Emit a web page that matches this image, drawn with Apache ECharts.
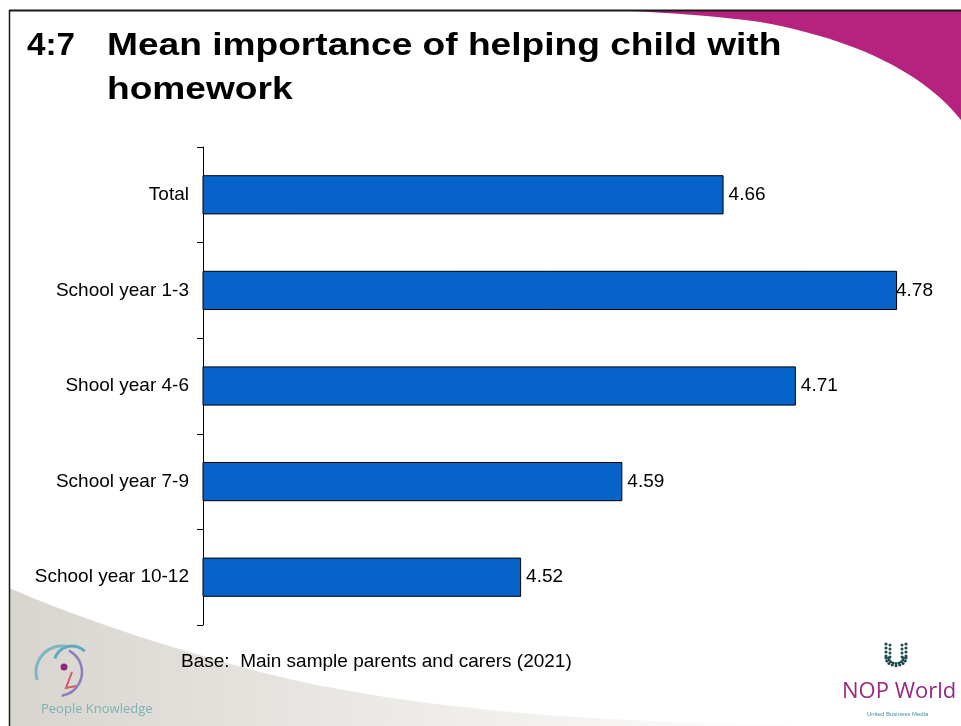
<!DOCTYPE html>
<html>
<head>
<meta charset="utf-8">
<title>Mean importance of helping child with homework</title>
<script src="https://cdn.jsdelivr.net/npm/echarts@6/dist/echarts.min.js"></script>
<style>
  html, body { margin: 0; padding: 0; background: #ffffff; }
  #chart { width: 961px; height: 726px; }
</style>
</head>
<body>
<div id="chart"></div>
<script>
// Survey groups, top to bottom
const categories = ['Total', 'School year 1-3', 'Shool year 4-6', 'School year 7-9', 'School year 10-12'];
// Mean importance score per group
const meanScores = [4.66, 4.78, 4.71, 4.59, 4.52];
// Value axis range
const axisMin = 4.3;
const axisMax = 4.8;

const FONT = '"Liberation Sans", Arial, sans-serif';
const TEXT_SIZE = 19;
// Value labels are pulled back so they never run past this x
const LABEL_LIMIT_X = 933;

// Sample a cubic Bezier segment into polygon points
function bezierPoints(p0, p1, p2, p3, steps) {
  const pts = [];
  for (let i = 0; i <= steps; i++) {
    const t = i / steps, u = 1 - t;
    pts.push([
      u * u * u * p0[0] + 3 * u * u * t * p1[0] + 3 * u * t * t * p2[0] + t * t * t * p3[0],
      u * u * u * p0[1] + 3 * u * u * t * p1[1] + 3 * u * t * t * p2[1] + t * t * t * p3[1]
    ]);
  }
  return pts;
}

// Magenta swoosh outline (top right corner)
const swooshTop = [[961, 10], [961, 120]]
  .concat(bezierPoints([961, 120], [925, 75], [860, 40], [760, 22], 24))
  .concat(bezierPoints([760, 22], [700, 14], [650, 12], [610, 10], 12));

// Grey swoosh outline (bottom left corner)
const swooshBottom = bezierPoints([9, 588], [60, 610], [140, 640], [260, 672], 20)
  .concat(bezierPoints([260, 672], [420, 712], [600, 722], [820, 726], 24))
  .concat([[9, 726]]);

// Dots of the NOP World emblem (a U of small circles)
const emblemDots = [];
(function () {
  const cx = 896, top = 644;
  // two side columns
  for (let k = 0; k < 4; k++) {
    [-1, 1].forEach(function (s) {
      emblemDots.push({ type: 'circle', silent: true, shape: { cx: cx + s * 10, cy: top + k * 4, r: 1.6 }, style: { fill: '#1f4a4f' } });
      emblemDots.push({ type: 'circle', silent: true, shape: { cx: cx + s * 6, cy: top + 1 + k * 4, r: 1.5 }, style: { fill: '#1f4a4f' } });
    });
  }
  // curved bottom of the U
  [8.5, 6].forEach(function (r) {
    for (let a = 0; a <= 180; a += 22.5) {
      const rad = a * Math.PI / 180;
      emblemDots.push({
        type: 'circle', silent: true,
        shape: { cx: cx + (r + 1.5) * Math.cos(rad), cy: top + 14 + r * Math.sin(rad) * 0.9, r: 1.5 },
        style: { fill: '#1f4a4f' }
      });
    }
  });
})();

const chart = echarts.init(document.getElementById('chart'), null, { renderer: 'canvas' });

chart.setOption({
  backgroundColor: '#ffffff',
  animation: false,
  graphic: [
    {
      type: 'polygon', z: -10, silent: true,
      shape: { points: swooshTop },
      style: { fill: '#b5237f' }
    },
    {
      type: 'polygon', z: -10, silent: true,
      shape: { points: swooshBottom },
      style: {
        fill: new echarts.graphic.LinearGradient(0, 0, 1, 0, [
          { offset: 0, color: '#d8d5cf' },
          { offset: 0.45, color: '#ebe9e5' },
          { offset: 1, color: '#ffffff' }
        ])
      }
    },
    // slide frame: top and left edges
    { type: 'line', silent: true, shape: { x1: 9, y1: 10.5, x2: 961, y2: 10.5 }, style: { stroke: '#1a1a1a', lineWidth: 2 } },
    { type: 'line', silent: true, shape: { x1: 9.5, y1: 10, x2: 9.5, y2: 726 }, style: { stroke: '#1a1a1a', lineWidth: 1.5 } },
    // slide heading
    {
      type: 'text', x: 27, y: 30, silent: true, scaleX: 1.04,
      style: { text: '4:7', fontFamily: FONT, fontSize: 32, fontWeight: 'bold', fill: '#000000' }
    },
    {
      type: 'text', x: 107, y: 30, silent: true, scaleX: 1.16,
      style: { text: 'Mean importance of helping child with', fontFamily: FONT, fontSize: 32, fontWeight: 'bold', fill: '#000000' }
    },
    {
      type: 'text', x: 107, y: 74, silent: true, scaleX: 1.16,
      style: { text: 'homework', fontFamily: FONT, fontSize: 32, fontWeight: 'bold', fill: '#000000' }
    },
    // footnote
    {
      type: 'text', x: 181, y: 652, silent: true,
      style: { text: 'Base:  Main sample parents and carers (2021)', fontFamily: FONT, fontSize: TEXT_SIZE, fill: '#000000' }
    },
    // People Knowledge mark
    { type: 'arc', silent: true, shape: { cx: 62, cy: 672, r: 26, startAngle: Math.PI * 0.9, endAngle: Math.PI * 1.55 }, style: { stroke: '#7fb6c4', lineWidth: 3, fill: null } },
    { type: 'arc', silent: true, shape: { cx: 58, cy: 672, r: 24, startAngle: -Math.PI * 0.35, endAngle: Math.PI * 0.45 }, style: { stroke: '#8a7fb8', lineWidth: 2.5, fill: null } },
    { type: 'arc', silent: true, shape: { cx: 72, cy: 664, r: 18, startAngle: Math.PI * 1.1, endAngle: Math.PI * 1.75 }, style: { stroke: '#5fa8c0', lineWidth: 3, fill: null } },
    { type: 'circle', silent: true, shape: { cx: 64, cy: 667, r: 3.5 }, style: { fill: '#8e2a7a' } },
    { type: 'polyline', silent: true, shape: { points: [[72, 672], [66, 688], [76, 686]] }, style: { stroke: '#d25a6a', lineWidth: 2, fill: null } },
    {
      type: 'text', x: 41, y: 703, silent: true,
      style: { text: 'People Knowledge', fontFamily: '"Open Sans", "Noto Sans", sans-serif', fontSize: 13, fill: '#7fb0b8' }
    },
    // NOP World mark
    ...emblemDots,
    {
      type: 'text', x: 842, y: 681, silent: true,
      style: { text: 'NOP World', fontFamily: '"Open Sans", "Noto Sans", sans-serif', fontSize: 22, fill: '#9a2a7f' }
    },
    {
      type: 'text', x: 867, y: 711, silent: true,
      style: { text: 'United Business Media', fontFamily: FONT, fontSize: 6, fill: '#4a8ca3' }
    }
  ],
  grid: { left: 203, right: 35, top: 147, bottom: 101, containLabel: false },
  xAxis: {
    type: 'value',
    min: axisMin,
    max: axisMax,
    show: false
  },
  yAxis: {
    type: 'category',
    data: categories,
    inverse: true,
    axisLine: { show: true, lineStyle: { color: '#000000', width: 1 } },
    axisTick: { show: true, length: 6, lineStyle: { color: '#000000' } },
    axisLabel: { color: '#000000', fontFamily: FONT, fontSize: TEXT_SIZE, margin: 14 },
    splitLine: { show: false }
  },
  series: [
    {
      type: 'bar',
      data: meanScores,
      barCategoryGap: '59%',
      itemStyle: { color: '#0563c9', borderColor: '#000000', borderWidth: 1 },
      label: {
        show: true,
        position: 'right',
        distance: 5,
        color: '#000000',
        fontFamily: FONT,
        fontSize: TEXT_SIZE,
        formatter: function (p) { return p.value.toFixed(2); }
      },
      labelLayout: function (params) {
        const r = params.labelRect;
        const overflow = r.x + r.width - LABEL_LIMIT_X;
        if (overflow > 0) {
          return { x: r.x - overflow, y: r.y + r.height / 2, verticalAlign: 'middle', align: 'left' };
        }
        return {};
      }
    }
  ]
});
</script>
</body>
</html>
